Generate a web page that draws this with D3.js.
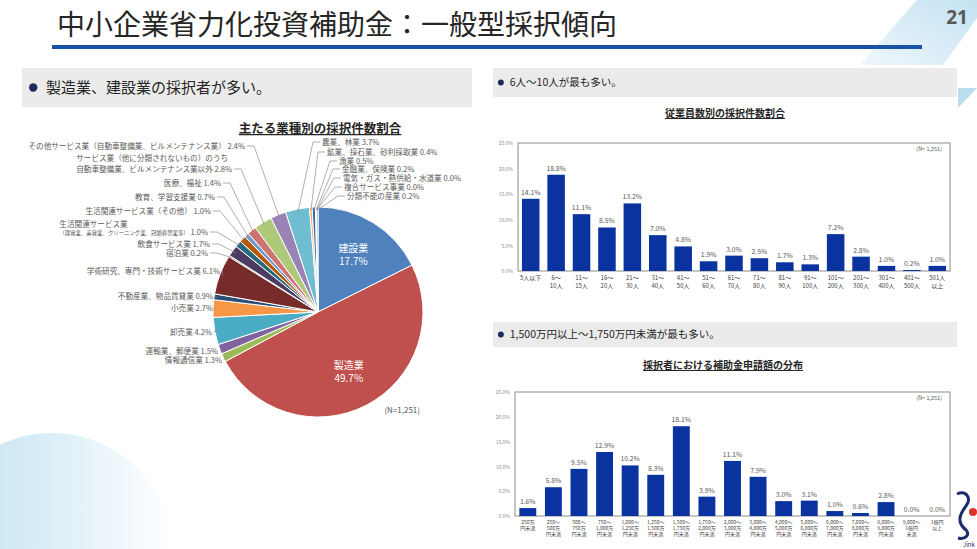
<!DOCTYPE html>
<html>
<head>
<meta charset="utf-8">
<script src="https://cdn.jsdelivr.net/npm/d3@7"></script>
<style>
  body { margin: 0; background: #fff; }
  svg { display: block; font-family: "Noto Sans CJK JP", "Noto Sans", sans-serif; }
</style>
</head>
<body>
<div id="slide"></div>
<script>
// ---- data ----
var industryNames = [
  ["建設業"], ["製造業"], ["情報通信業"], ["運輸業、郵便業"], ["卸売業"], ["小売業"],
  ["不動産業、物品賃貸業"], ["学術研究、専門・技術サービス業"], ["宿泊業"], ["飲食サービス業"],
  ["生活関連サービス業", "（理容業、美容業、クリーニング業、冠婚葬祭業等）"],
  ["生活関連サービス業（その他）"], ["教育、学習支援業"], ["医療、福祉"],
  ["サービス業（他に分類されないもの）のうち", "自動車整備業、ビルメンテナンス業以外"],
  ["その他サービス業（自動車整備業、ビルメンテナンス業）"],
  ["農業、林業"], ["鉱業、採石業、砂利採取業"], ["漁業"], ["金融業、保険業"],
  ["電気・ガス・熱供給・水道業"], ["複合サービス事業"], ["分類不能の産業"]
];
var industryShares = [17.7, 49.7, 1.3, 1.5, 4.2, 2.7, 0.9, 6.1, 0.2, 1.7, 1.0, 1.0, 0.7, 1.4, 2.8, 2.4,
  3.7, 0.4, 0.5, 0.2, 0.0, 0.0, 0.2];

var staffCategories = [["5人以下"], ["6～", "10人"], ["11～", "15人"], ["16～", "20人"], ["21～", "30人"],
  ["31～", "40人"], ["41～", "50人"], ["51～", "60人"], ["61～", "70人"], ["71～", "80人"], ["81～", "90人"],
  ["91～", "100人"], ["101～", "200人"], ["201～", "300人"], ["301～", "400人"], ["401～", "500人"], ["501人", "以上"]];
var staffShares = [14.1, 18.8, 11.1, 8.5, 13.2, 7.0, 4.8, 1.9, 3.0, 2.5, 1.7, 1.3, 7.2, 2.8, 1.0, 0.2, 1.0];

var amountCategories = [["250万", "円未満"], ["250～", "500万", "円未満"], ["500～", "750万", "円未満"],
  ["750～", "1,000万", "円未満"], ["1,000～", "1,250万", "円未満"], ["1,250～", "1,500万", "円未満"],
  ["1,500～", "1,750万", "円未満"], ["1,750～", "2,000万", "円未満"], ["2,000～", "3,000万", "円未満"],
  ["3,000～", "4,000万", "円未満"], ["4,000～", "5,000万", "円未満"], ["5,000～", "6,000万", "円未満"],
  ["6,000～", "7,000万", "円未満"], ["7,000～", "8,000万", "円未満"], ["8,000～", "9,000万", "円未満"],
  ["9,000～", "1億円", "未満"], ["1億円", "以上"]];
var amountShares = [1.6, 5.8, 9.5, 12.9, 10.2, 8.3, 18.1, 3.9, 11.1, 7.9, 3.0, 3.1, 1.0, 0.6, 2.8, 0.0, 0.0];

var yTicks = [0, 5, 10, 15, 20, 25];
var sampleLabel = "(N= 1,251)";

// ---- styles / layout ----
var pieColors = ["#4f81bd", "#c0504d", "#9bbb59", "#8064a2", "#4bacc6", "#f79646",
  "#2c4d75", "#772c2a", "#5f7530", "#4d3b62", "#276a7c", "#b65708",
  "#729aca", "#cd7371", "#afc97a", "#9983b5", "#6fbdd1", "#f9ab6b",
  "#3a679c", "#9e3a38", "#7e9c40", "#664f84", "#3690a8"];
var barColor = "#0a33a0";

// where each outside label sits (end of text for left, start of text for right)
var pieLabelLayout = [
  null, null,
  { side: "left", x: 222, y: 360 }, { side: "left", x: 218, y: 351 }, { side: "left", x: 212, y: 332 },
  { side: "left", x: 213, y: 308 }, { side: "left", x: 213, y: 296 }, { side: "left", x: 220, y: 271 },
  { side: "left", x: 208, y: 253 }, { side: "left", x: 210, y: 244 },
  { side: "left", x: 208, y: 232, gap: 8, small: true },
  { side: "left", x: 211, y: 211 }, { side: "left", x: 215, y: 197 }, { side: "left", x: 221, y: 183 },
  { side: "left", x: 232, y: 169, gap: 11 }, { side: "left", x: 245, y: 146 },
  { side: "right", x: 322, y: 142 }, { side: "right", x: 327, y: 152 }, { side: "right", x: 339, y: 161 },
  { side: "right", x: 342, y: 169 }, { side: "right", x: 343, y: 178 }, { side: "right", x: 344, y: 187 },
  { side: "right", x: 347, y: 196 }
];

var W = 977, H = 549;
var svg = d3.select("#slide").append("svg").attr("width", W).attr("height", H);
var defs = svg.append("defs");

var deco = defs.append("linearGradient").attr("id", "decoGrad")
  .attr("x1", 0).attr("y1", 1).attr("x2", 1).attr("y2", 0);
deco.append("stop").attr("offset", 0).attr("stop-color", "#eef7fc");
deco.append("stop").attr("offset", 1).attr("stop-color", "#c4e2f2");

var circ = defs.append("linearGradient").attr("id", "circGrad")
  .attr("x1", 0).attr("y1", 0).attr("x2", 1).attr("y2", 0);
circ.append("stop").attr("offset", 0).attr("stop-color", "#bfe0f0");
circ.append("stop").attr("offset", 0.45).attr("stop-color", "#d8edf7");
circ.append("stop").attr("offset", 1).attr("stop-color", "#ffffff");

// background shapes
svg.append("circle").attr("cx", 52).attr("cy", 554).attr("r", 121).attr("fill", "url(#circGrad)");
svg.append("path").attr("d", "M917,0 L977,0 L977,18 L943,65 L860,65 Z").attr("fill", "url(#decoGrad)");
svg.append("path").attr("d", "M958,88 L977,88 L958,108 Z").attr("fill", "#b9dcee");

// title
svg.append("text").attr("x", 57).attr("y", 35)
  .attr("font-size", 28).attr("fill", "#262626")
  .text("中小企業省力化投資補助金：一般型採択傾向");
svg.append("rect").attr("x", 52).attr("y", 45).attr("width", 870).attr("height", 4).attr("fill", "#1a52a8");
svg.append("text").attr("x", 968).attr("y", 24).attr("text-anchor", "end")
  .attr("font-size", 19).attr("font-weight", "bold").attr("fill", "#595959")
  .style("font-family", "'Noto Sans', sans-serif").text("21");

// comment boxes
function noteBox(x, y, w, h, fs, text) {
  svg.append("rect").attr("x", x).attr("y", y).attr("width", w).attr("height", h).attr("fill", "#ebebeb");
  svg.append("circle").attr("cx", x + fs * 0.75).attr("cy", y + h / 2).attr("r", fs * 0.28).attr("fill", "#1c2a5e");
  svg.append("text").attr("x", x + fs * 1.6).attr("y", y + h / 2).attr("dy", "0.36em")
    .attr("font-size", fs).attr("fill", "#262626").text(text);
}
noteBox(22, 68, 450, 39, 15, "製造業、建設業の採択者が多い。");
noteBox(493, 68, 464, 29, 10.5, "6人～10人が最も多い。");
noteBox(493, 322, 464, 25, 10.5, "1,500万円以上～1,750万円未満が最も多い。");

// ---- pie ----
var pieCx = 318, pieCy = 312, pieR = 105;
var pieData = industryShares.map(function (v, i) { return { name: industryNames[i], share: v, i: i }; });
var pie = d3.pie().sort(null).value(function (d) { return d.share; });
var arcs = pie(pieData);
var arc = d3.arc().innerRadius(0).outerRadius(pieR);
var inner = d3.arc().innerRadius(pieR * 0.64).outerRadius(pieR * 0.64);

svg.append("text").attr("x", 320).attr("y", 133).attr("text-anchor", "middle")
  .attr("font-size", 12.5).attr("font-weight", "bold").attr("fill", "#262626")
  .style("text-decoration", "underline").text("主たる業種別の採択件数割合");

var pieG = svg.append("g").attr("transform", "translate(" + pieCx + "," + pieCy + ")");
pieG.selectAll("path.slice").data(arcs).enter().append("path")
  .attr("class", "slice")
  .attr("d", arc)
  .attr("fill", function (d) { return pieColors[d.data.i]; })
  .attr("stroke", "#fff").attr("stroke-width", 1);

// inner labels for the two large slices
arcs.slice(0, 2).forEach(function (d) {
  var c = inner.centroid(d);
  var t = pieG.append("text").attr("text-anchor", "middle").attr("font-size", 10).attr("fill", "#fff");
  t.append("tspan").attr("x", c[0]).attr("y", c[1] - 3).text(d.data.name[0]);
  t.append("tspan").attr("x", c[0]).attr("y", c[1] + 10).text(d.data.share.toFixed(1) + "%");
});

// outside labels with leader lines
var labelG = svg.append("g").attr("font-size", 7.6).attr("fill", "#595959");
arcs.forEach(function (d) {
  var L = pieLabelLayout[d.data.i];
  if (!L) return;
  var lines = d.data.name;
  var pct = d.data.share.toFixed(1) + "%";
  var a = (d.startAngle + d.endAngle) / 2;
  var ax = pieCx + Math.sin(a) * (pieR - 3), ay = pieCy - Math.cos(a) * (pieR - 3);
  var last = labelG.append("text").attr("y", L.y).attr("dy", "0.35em")
    .attr("x", L.x).attr("text-anchor", L.side === "left" ? "end" : "start");
  if (L.small) {
    last.append("tspan").attr("font-size", 5.4).text(lines[lines.length - 1]);
    last.append("tspan").text(" " + pct);
  } else {
    last.text(lines[lines.length - 1] + " " + pct);
  }
  if (lines.length > 1) {
    var bb = last.node().getBBox();
    labelG.append("text").attr("x", bb.x).attr("y", L.y - L.gap).attr("dy", "0.35em")
      .text(lines[0]);
  }
  var pts;
  if (L.side === "left") {
    var sx = L.x + 2;
    pts = (ax - sx > 12) ? [[sx, L.y], [sx + 7, L.y], [ax, ay]] : [[sx, L.y], [ax, ay]];
  } else {
    var ex = L.x - 2;
    pts = [[ex, L.y], [ex - 7, L.y], [ax, ay]];
  }
  svg.append("path").attr("d", d3.line()(pts))
    .attr("fill", "none").attr("stroke", "#8c8c8c").attr("stroke-width", 0.7);
});

svg.append("text").attr("x", 420).attr("y", 413).attr("text-anchor", "end")
  .attr("font-size", 8).attr("fill", "#595959").text("(N=1,251)");

// ---- bar charts ----
function drawBars(cfg) {
  var n = cfg.values.length;
  var x = d3.scaleBand().domain(d3.range(n)).range([cfg.left, cfg.right])
    .paddingInner(cfg.pad).paddingOuter(cfg.pad / 2);
  var y = d3.scaleLinear().domain([0, 25]).range([cfg.bottom, cfg.top]);
  var g = svg.append("g");

  g.append("text").attr("x", cfg.titleX).attr("y", cfg.titleY).attr("text-anchor", "middle")
    .attr("font-size", 10).attr("font-weight", "bold").attr("fill", "#262626")
    .style("text-decoration", "underline").text(cfg.title);

  g.append("rect").attr("x", cfg.left).attr("y", cfg.top)
    .attr("width", cfg.right - cfg.left).attr("height", cfg.bottom - cfg.top)
    .attr("fill", "none").attr("stroke", "#8c8c8c").attr("stroke-width", 1);

  g.selectAll("rect.bar").data(cfg.values).enter().append("rect")
    .attr("class", "bar")
    .attr("x", function (d, i) { return x(i); })
    .attr("y", function (d) { return y(d); })
    .attr("width", x.bandwidth())
    .attr("height", function (d) { return cfg.bottom - y(d); })
    .attr("fill", barColor);

  g.selectAll("text.val").data(cfg.values).enter().append("text")
    .attr("class", "val")
    .attr("x", function (d, i) { return x(i) + x.bandwidth() / 2; })
    .attr("y", function (d) { return y(d) - 4; })
    .attr("text-anchor", "middle").attr("font-size", 6.8).attr("fill", "#595959")
    .text(function (d) { return d.toFixed(1) + "%"; });

  var ya = g.append("g").attr("transform", "translate(" + cfg.left + ",0)")
    .call(d3.axisLeft(y).tickValues(yTicks).tickSize(0).tickPadding(5)
      .tickFormat(function (d) { return d.toFixed(1) + "%"; }));
  ya.select(".domain").remove();
  ya.attr("font-family", null).attr("font-size", 5);
  ya.selectAll("text").attr("fill", "#8c8c8c");

  var xa = g.append("g").attr("transform", "translate(0," + cfg.bottom + ")")
    .call(d3.axisBottom(x).tickSize(0).tickFormat(""));
  xa.select(".domain").remove();
  xa.attr("font-family", null).attr("font-size", cfg.xFont);
  xa.selectAll(".tick text").each(function (i) {
    var t = d3.select(this).attr("y", 0).attr("dy", null).attr("fill", "#404040");
    cfg.categories[i].forEach(function (line, k) {
      t.append("tspan").attr("x", 0).attr("y", cfg.xFirst + k * cfg.xGap).text(line);
    });
  });

  g.append("text").attr("x", cfg.right - 8).attr("y", cfg.top + 8).attr("text-anchor", "end")
    .attr("font-size", 5.5).attr("fill", "#595959").text(sampleLabel);
}

drawBars({
  title: "従業員数別の採択件数割合", titleX: 725, titleY: 117,
  categories: staffCategories, values: staffShares,
  left: 518, right: 950, top: 143, bottom: 271, pad: 0.31,
  xFont: 6, xFirst: 9, xGap: 8
});

drawBars({
  title: "採択者における補助金申請額の分布", titleX: 723, titleY: 369,
  categories: amountCategories, values: amountShares,
  left: 515, right: 950, top: 392, bottom: 516, pad: 0.34,
  xFont: 5, xFirst: 8, xGap: 6
});

// logo in the bottom-right corner
svg.append("path").attr("d", "M957,494 C966,490 972,498 966,506 C960,514 956,522 966,530 C970,534 966,540 958,538")
  .attr("fill", "none").attr("stroke", "#1c2a6e").attr("stroke-width", 3);
svg.append("circle").attr("cx", 973).attr("cy", 512).attr("r", 4).attr("fill", "#d9342b");
svg.append("text").attr("x", 963).attr("y", 547).attr("font-size", 6).attr("fill", "#1c2a6e").text("Jink");
</script>
</body>
</html>
